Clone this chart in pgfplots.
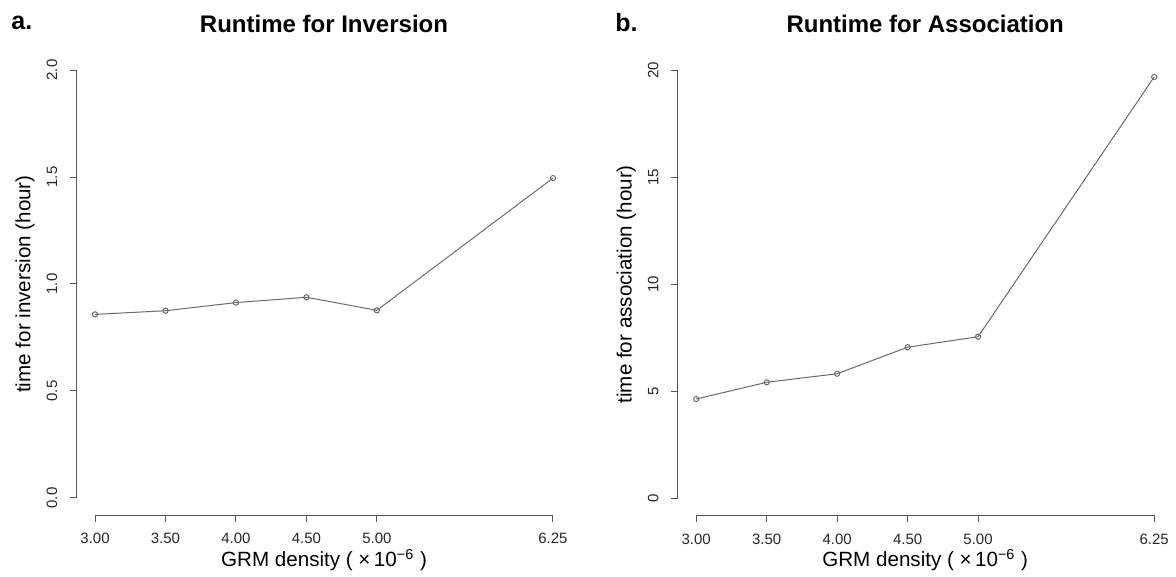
\documentclass[border=0pt]{standalone}
\usepackage{fontspec}
\setmainfont{Liberation Sans}
\usepackage{pgfplots}
\pgfplotsset{compat=1.18}
\definecolor{ln}{HTML}{6A6A6A}
\definecolor{axc}{HTML}{555555}
\pgfplotsset{rstyle/.style={
  scale only axis, width=247.3pt, height=231.1pt,
  anchor=south west,
  axis x line*=bottom, axis y line*=left,
  axis line style={draw=none},
  tick align=outside, major tick length=3.5pt,
  every tick/.style={axc, line width=0.5pt},
  xtick={3,3.5,4,4.5,5,6.25},
  xticklabels={3.00,3.50,4.00,4.50,5.00,6.25},
  ticklabel style={font=\fontsize{7.5}{8}\selectfont, text=black!85},
  xticklabel style={anchor=north, inner sep=0pt, yshift=-5.5pt},
  yticklabel style={rotate=90, anchor=south, inner sep=0pt},
  yticklabel shift=6pt,
  /pgf/number format/assume math mode=true,
  xmin=2.87, xmax=6.38,
  xlabel={GRM density ( ×\,10\textsuperscript{−6} )},
  label style={font=\fontsize{10.3}{11}\selectfont},
  xlabel style={at={(axis description cs:0.5,0)}, anchor=center, yshift=-22.5pt},
  ylabel style={at={([xshift=-25.85pt]axis description cs:0,0.5)}, anchor=center},
  title style={at={(axis description cs:0.5,1)}, anchor=center, yshift=8.5pt, font=\bfseries\fontsize{12}{13}\selectfont},
  clip=false,
}}
\begin{document}
\begin{tikzpicture}
\useasboundingbox (0,0) rectangle (588pt,288.5pt);
\node[anchor=west, inner sep=0pt, font=\bfseries\fontsize{12.5}{14}\selectfont] at (5.5pt,277pt) {a.};
\node[anchor=west, inner sep=0pt, font=\bfseries\fontsize{12.5}{14}\selectfont] at (307.5pt,277pt) {b.};
\begin{axis}[rstyle, at={(38.35pt,30.95pt)},
  ymin=-0.08, ymax=2.08,
  ytick={0,0.5,1,1.5,2}, yticklabels={0.0,0.5,1.0,1.5,2.0},
  title={Runtime for Inversion},
  ylabel={time for inversion (hour)}]
\draw[axc, line width=0.5pt] (axis cs:3,-0.08) -- (axis cs:6.25,-0.08);
\draw[axc, line width=0.5pt] (axis cs:2.87,0) -- (axis cs:2.87,2);
\addplot[ln, line width=0.5pt, mark=o, mark size=1.3pt, mark options={solid, line width=0.5pt}]
  coordinates {(3,0.858) (3.5,0.875) (4,0.913) (4.5,0.938) (5,0.877) (6.25,1.495)};
\end{axis}
\begin{axis}[rstyle, at={(338.95pt,30.8pt)},
  ymin=-0.8, ymax=20.8,
  ytick={0,5,10,15,20}, yticklabels={0,5,10,15,20},
  title={Runtime for Association},
  ylabel={time for association (hour)}]
\draw[axc, line width=0.5pt] (axis cs:3,-0.8) -- (axis cs:6.25,-0.8);
\draw[axc, line width=0.5pt] (axis cs:2.87,0) -- (axis cs:2.87,20);
\addplot[ln, line width=0.5pt, mark=o, mark size=1.3pt, mark options={solid, line width=0.5pt}]
  coordinates {(3,4.64) (3.5,5.42) (4,5.82) (4.5,7.06) (5,7.55) (6.25,19.69)};
\end{axis}
\end{tikzpicture}
\end{document}
